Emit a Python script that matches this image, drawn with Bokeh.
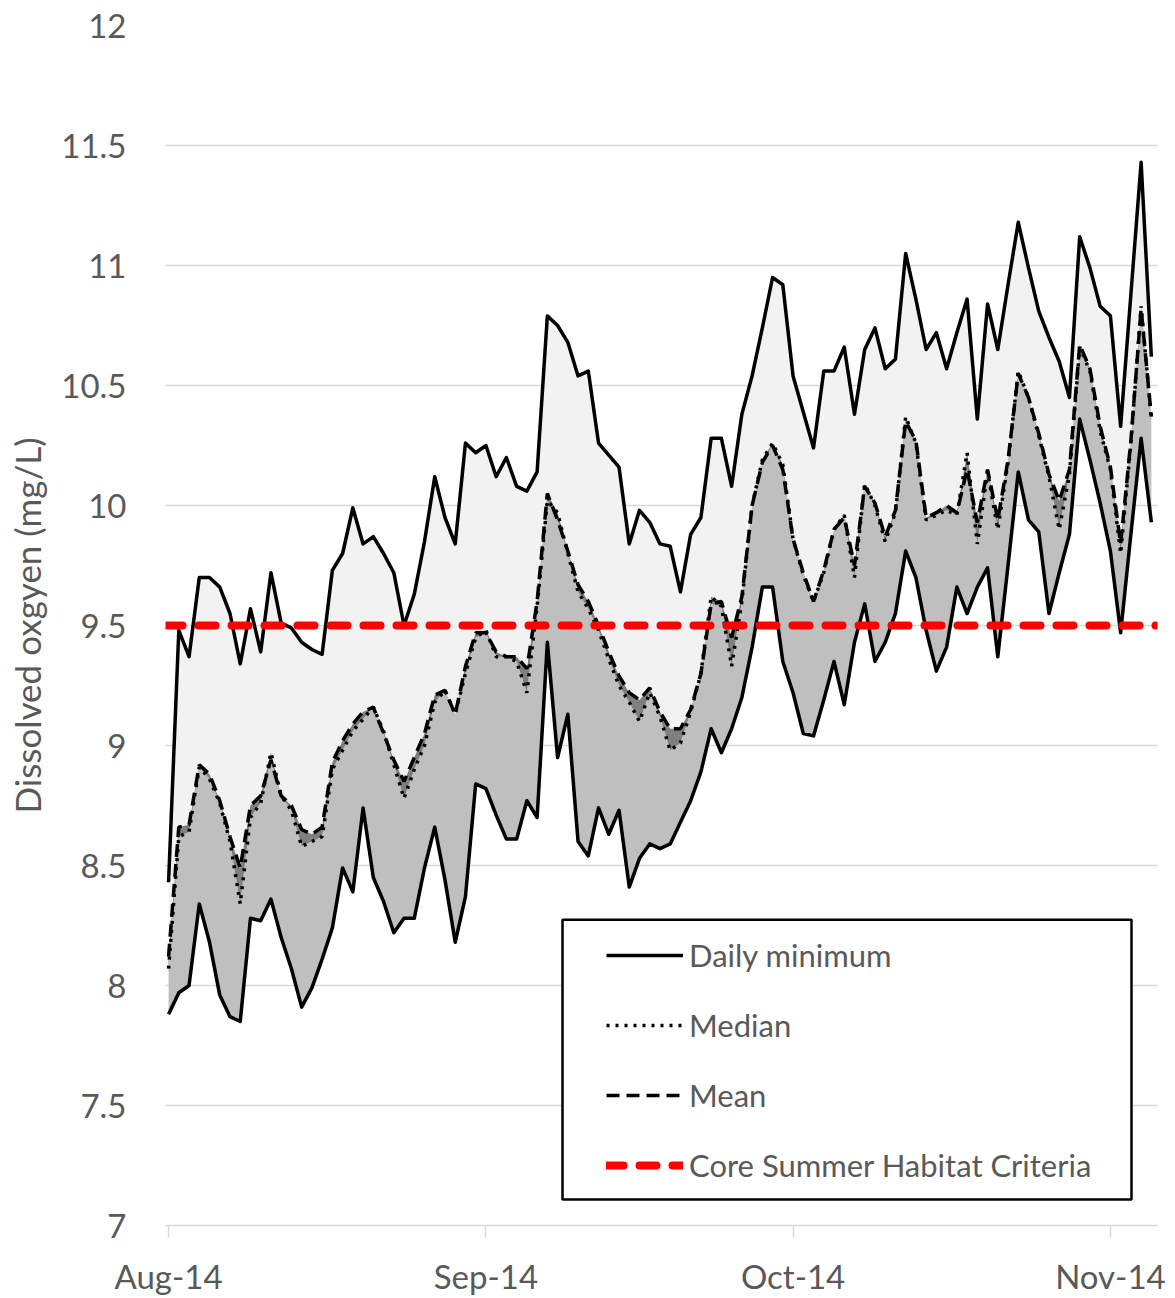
import numpy as np
from bokeh.plotting import figure
from bokeh.models import Legend, LegendItem, FixedTicker, BoxAnnotation, Range1d
from bokeh.embed import file_html
from bokeh.resources import INLINE

# ---- data ----
start_date = "2014-08-01"
xtick_days = [0, 31, 61, 92]
xtick_labels = ["Aug-14", "Sep-14", "Oct-14", "Nov-14"]
ytick_values = [7, 7.5, 8, 8.5, 9, 9.5, 10, 10.5, 11, 11.5, 12]
ytick_labels = ["7", "7.5", "8", "8.5", "9", "9.5", "10", "10.5", "11", "11.5", "12"]
criteria = 9.5

daily_max = [8.43, 9.48, 9.37, 9.70, 9.70, 9.66, 9.55, 9.34, 9.57, 9.39,
             9.72, 9.51, 9.49, 9.43, 9.40, 9.38, 9.73, 9.80, 9.99, 9.84,
             9.87, 9.80, 9.72, 9.50, 9.63, 9.85, 10.12, 9.95, 9.84, 10.26,
             10.22, 10.25, 10.12, 10.20, 10.08, 10.06, 10.14, 10.79, 10.75, 10.68,
             10.54, 10.56, 10.26, 10.21, 10.16, 9.84, 9.98, 9.93, 9.84, 9.83,
             9.64, 9.88, 9.95, 10.28, 10.28, 10.08, 10.38, 10.54, 10.74, 10.95,
             10.92, 10.54, 10.39, 10.24, 10.56, 10.56, 10.66, 10.38, 10.65, 10.74,
             10.57, 10.61, 11.05, 10.86, 10.65, 10.72, 10.57, 10.72, 10.86, 10.36,
             10.84, 10.65, 10.92, 11.18, 10.99, 10.81, 10.70, 10.60, 10.45, 11.12,
             10.99, 10.83, 10.79, 10.33, 10.88, 11.43, 10.62]

mean = [8.12, 8.66, 8.67, 8.92, 8.88, 8.77, 8.62, 8.49, 8.75, 8.79,
        8.94, 8.79, 8.75, 8.65, 8.63, 8.66, 8.93, 9.02, 9.09, 9.14,
        9.16, 9.05, 8.94, 8.85, 8.95, 9.05, 9.21, 9.23, 9.13, 9.33,
        9.47, 9.47, 9.39, 9.37, 9.37, 9.32, 9.60, 10.05, 9.94, 9.81,
        9.67, 9.60, 9.50, 9.39, 9.29, 9.22, 9.19, 9.24, 9.14, 9.07,
        9.07, 9.15, 9.30, 9.59, 9.60, 9.45, 9.62, 10.00, 10.18, 10.25,
        10.15, 9.86, 9.72, 9.60, 9.73, 9.90, 9.95, 9.75, 10.08, 10.01,
        9.87, 9.98, 10.35, 10.27, 9.95, 9.97, 10.00, 9.97, 10.15, 9.93,
        10.15, 9.94, 10.19, 10.55, 10.45, 10.30, 10.13, 10.02, 10.15, 10.67,
        10.57, 10.33, 10.16, 9.84, 10.27, 10.82, 10.37]

median = [8.07, 8.62, 8.64, 8.91, 8.86, 8.76, 8.60, 8.34, 8.70, 8.76,
          8.97, 8.79, 8.73, 8.58, 8.60, 8.62, 8.90, 8.98, 9.06, 9.11,
          9.16, 9.06, 8.92, 8.78, 8.90, 9.00, 9.18, 9.23, 9.13, 9.30,
          9.45, 9.48, 9.37, 9.37, 9.35, 9.22, 9.58, 10.02, 9.97, 9.80,
          9.64, 9.57, 9.48, 9.36, 9.25, 9.18, 9.10, 9.22, 9.12, 8.98,
          9.01, 9.14, 9.30, 9.62, 9.58, 9.33, 9.60, 10.00, 10.19, 10.26,
          10.17, 9.86, 9.71, 9.60, 9.72, 9.90, 9.96, 9.70, 10.09, 10.00,
          9.85, 9.97, 10.37, 10.26, 9.94, 9.96, 9.98, 9.96, 10.22, 9.84,
          10.14, 9.90, 10.18, 10.56, 10.45, 10.29, 10.12, 9.90, 10.13, 10.66,
          10.56, 10.31, 10.15, 9.80, 10.26, 10.83, 10.36]

daily_min = [7.88, 7.97, 8.00, 8.34, 8.18, 7.96, 7.87, 7.85, 8.28, 8.27,
             8.36, 8.20, 8.07, 7.91, 7.99, 8.11, 8.24, 8.49, 8.39, 8.74,
             8.45, 8.35, 8.22, 8.28, 8.28, 8.49, 8.66, 8.44, 8.18, 8.37,
             8.84, 8.82, 8.71, 8.61, 8.61, 8.77, 8.70, 9.43, 8.95, 9.13,
             8.60, 8.54, 8.74, 8.63, 8.73, 8.41, 8.53, 8.59, 8.57, 8.59,
             8.68, 8.77, 8.89, 9.07, 8.97, 9.07, 9.20, 9.41, 9.66, 9.66,
             9.35, 9.22, 9.05, 9.04, 9.19, 9.35, 9.17, 9.43, 9.59, 9.35,
             9.43, 9.55, 9.81, 9.70, 9.48, 9.31, 9.41, 9.66, 9.55, 9.66,
             9.74, 9.37, 9.75, 10.14, 9.94, 9.89, 9.55, 9.72, 9.88, 10.36,
             10.19, 10.01, 9.81, 9.47, 9.88, 10.28, 9.93]

days = list(range(len(daily_max)))  # day offset from start_date

FONT = "Lato"
GREY_TXT = "#595959"
LW = 3.5

xr = Range1d(-0.3, 96.6)
yr = Range1d(7, 12)
p = figure(width=1175, height=1298, x_range=xr, y_range=yr,
           output_backend="svg", toolbar_location=None,
           min_border_left=165, min_border_right=18, min_border_top=25,
           min_border_bottom=72)
p.outline_line_color = None
p.background_fill_color = "white"

hi_mid = np.maximum(mean, median)
lo_mid = np.minimum(mean, median)

p.varea(x=days, y1=hi_mid, y2=daily_max, fill_color="#f2f2f2")
p.varea(x=days, y1=daily_min, y2=lo_mid, fill_color="#bfbfbf")
p.varea(x=days, y1=lo_mid, y2=hi_mid, fill_color="#7f7f7f")

r_max = p.line(days, daily_max, line_color="black", line_width=LW, line_join="round")
r_min = p.line(days, daily_min, line_color="black", line_width=LW, line_join="round")
r_med = p.line(days, median, line_color="black", line_width=LW, line_dash="3 6")
r_mean = p.line(days, mean, line_color="black", line_width=LW, line_dash="13 7")
r_crit = p.line(x=[xr.start, xr.end], y=[criteria, criteria], line_color="red",
                line_width=8, line_dash="17 16", line_cap="round")

# axes
p.xgrid.grid_line_color = None
p.ygrid.grid_line_color = "#d9d9d9"
p.ygrid.grid_line_width = 1.5
p.ygrid.ticker = FixedTicker(ticks=ytick_values)

p.yaxis.ticker = FixedTicker(ticks=ytick_values)
p.yaxis.major_label_overrides = {v: l for v, l in zip(ytick_values, ytick_labels)}
p.yaxis.axis_line_color = None
p.yaxis.major_tick_line_color = None
p.yaxis.minor_tick_line_color = None
p.yaxis.major_label_standoff = 33
p.yaxis.major_label_text_font = FONT
p.yaxis.major_label_text_font_size = "33px"
p.yaxis.major_label_text_color = GREY_TXT
p.yaxis.axis_label = "Dissolved oxgyen (mg/L)"
p.yaxis.axis_label_text_font = FONT
p.yaxis.axis_label_text_font_size = "35px"
p.yaxis.axis_label_text_font_style = "normal"
p.yaxis.axis_label_text_color = GREY_TXT
p.yaxis.axis_label_standoff = 10

p.xaxis.ticker = FixedTicker(ticks=xtick_days)
p.xaxis.major_label_overrides = {d: l for d, l in zip(xtick_days, xtick_labels)}
p.xaxis.axis_line_color = "#d9d9d9"
p.xaxis.axis_line_width = 1.5
p.xaxis.major_tick_line_color = "#d9d9d9"
p.xaxis.major_tick_line_width = 1.5
p.xaxis.major_tick_in = 0
p.xaxis.major_tick_out = 12
p.xaxis.minor_tick_line_color = None
p.xaxis.major_label_standoff = 18
p.xaxis.major_label_text_font = FONT
p.xaxis.major_label_text_font_size = "33px"
p.xaxis.major_label_text_color = GREY_TXT

# legend frame (white box with black border)
p.add_layout(BoxAnnotation(left=38.48, right=94.06, top=8.274, bottom=7.108,
                           fill_color="white", fill_alpha=1.0,
                           line_color="black", line_width=2.5, line_alpha=1.0,
                           level="annotation"))

legend = Legend(items=[
    LegendItem(label="Daily minimum", renderers=[r_min]),
    LegendItem(label="Median", renderers=[r_med]),
    LegendItem(label="Mean", renderers=[r_mean]),
    LegendItem(label="Core Summer Habitat Criteria", renderers=[r_crit]),
], location=(441, 41))
legend.border_line_color = None
legend.background_fill_alpha = 0.0
legend.padding = 17
legend.spacing = 32
legend.margin = 0
legend.glyph_width = 77
legend.glyph_height = 30
legend.label_height = 30
legend.label_standoff = 6
legend.label_text_font = FONT
legend.label_text_font_size = "31px"
legend.label_text_color = GREY_TXT
p.add_layout(legend)

open("out.html", "w").write(file_html(p, INLINE))
